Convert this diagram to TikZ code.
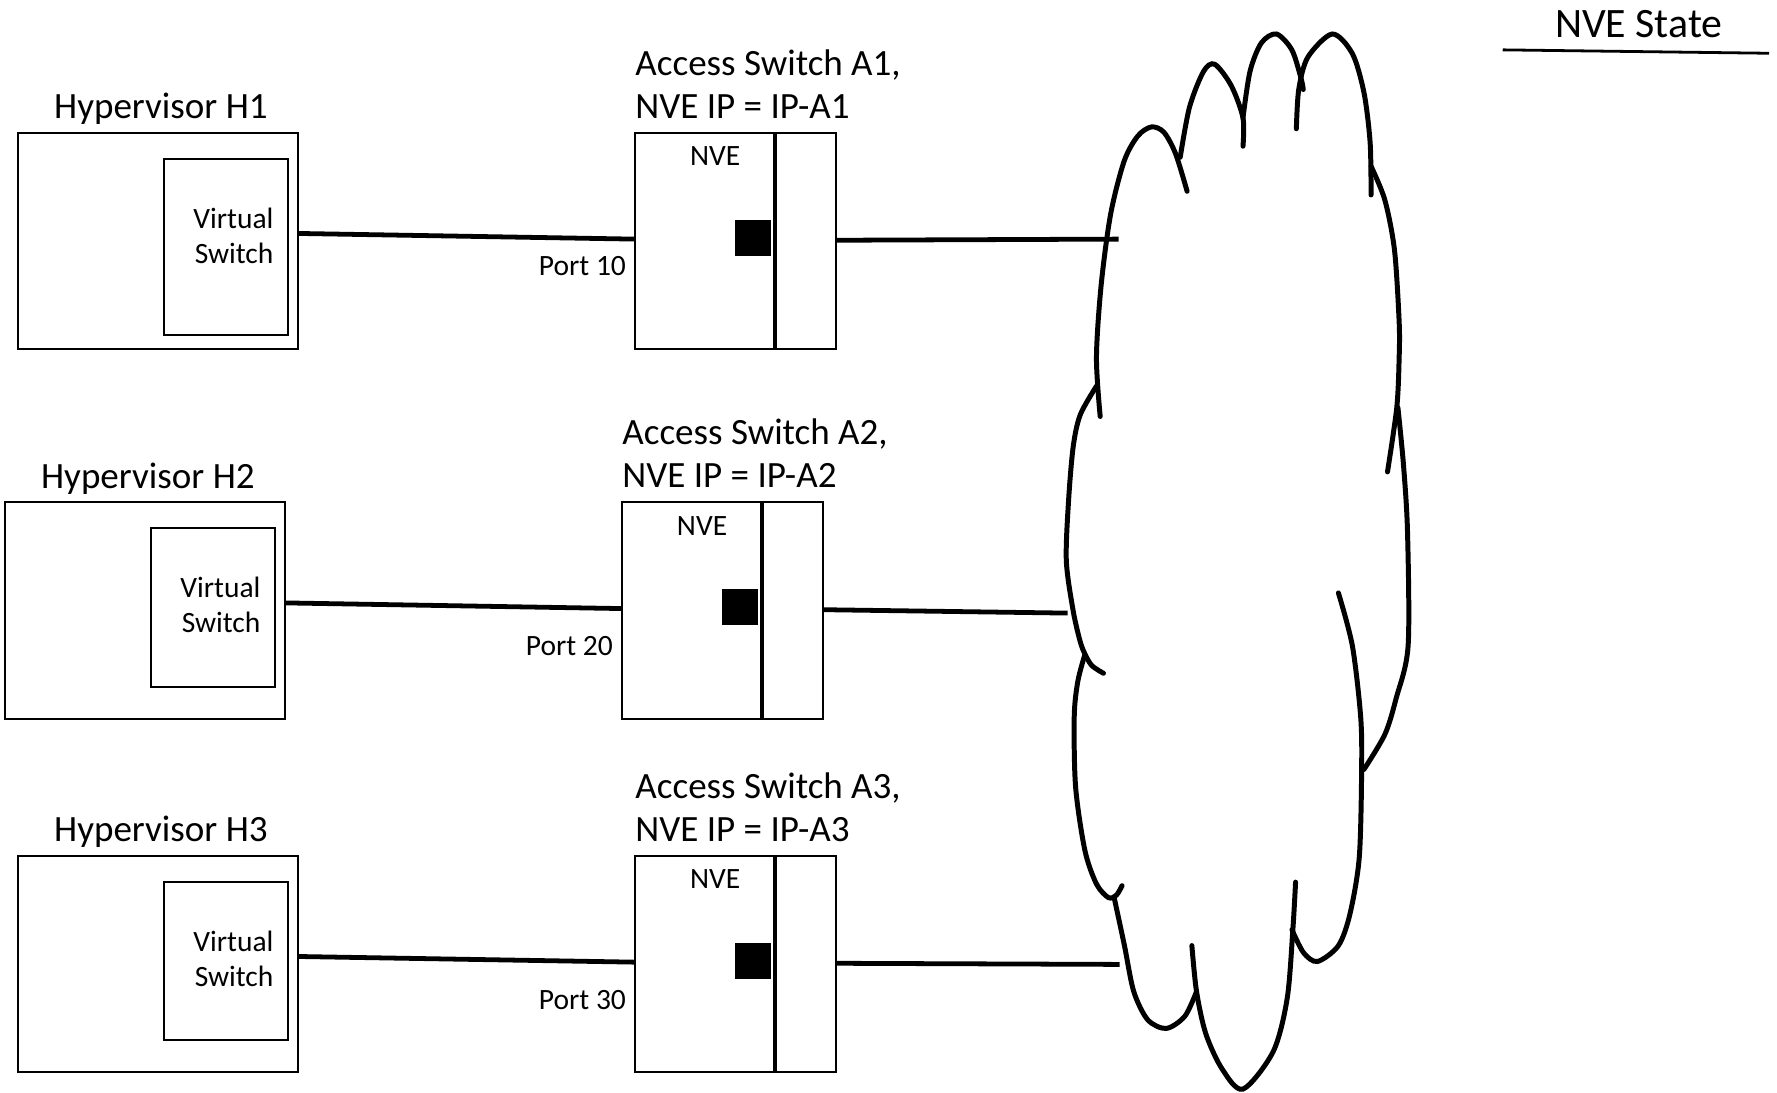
\documentclass[tikz,border=0pt]{standalone}
\usepackage{fontspec}
\setmainfont{Carlito}
\usetikzlibrary{positioning,calc}

\tikzset{
  box/.style={draw, line width=0.5pt, inner sep=0pt, outer sep=0pt},
  wire/.style={line width=1.2pt},
  cloudline/.style={line width=1.25pt, line cap=round},
  biglbl/.style={font=\fontsize{9.3}{10.8}\selectfont, inner sep=0pt},
  smalllbl/.style={font=\fontsize{7.4}{8.8}\selectfont, inner sep=0pt},
}

\begin{document}
\begin{tikzpicture}[x=0.01cm, y=-0.01cm]
\useasboundingbox (0,0) rectangle (1568,964);

% one row per hypervisor / access switch pair
\foreach \i/\sx/\ty/\vh/\py/\cx/\cy in {1/0/117/156/118/987/211, 2/-11.5/443/140/127/942/541, 3/0/755/140/127/988/851} {
  \node[box, anchor=north west, minimum width=2.47cm, minimum height=1.91cm] (hyp\i) at (16+\sx,\ty) {};
  \node[biglbl] (hyplbl\i) at (142+\sx,\ty-21) {Hypervisor H\i};
  \node[box, anchor=north east, minimum width=1.09cm, minimum height=0.01cm*\vh] (vsw\i) at (254+\sx,\ty+23) {};
  \node[smalllbl, align=right, anchor=east] (vswlbl\i) at (242+\sx,\ty+91) {Virtual\\Switch};
  % access switch: NVE part and port part
  \node[box, anchor=north west, minimum width=1.23cm, minimum height=1.91cm] (nve\i) at (560+\sx,\ty) {};
  \node[box, anchor=north west, minimum width=0.53cm, minimum height=1.91cm] (side\i) at (685+\sx,\ty) {};
  \node[smalllbl] (nvelbl\i) at (631+\sx,\ty+21) {NVE};
  \node[fill=black, inner sep=0pt, minimum size=0.32cm, anchor=north east] (blk\i) at (681+\sx,\ty+76) {};
  \node[smalllbl, anchor=east] (portlbl\i) at ($(nve\i.north west)+(-7,\py)$) {Port \i0};
  \node[biglbl, align=left, anchor=west] (swlbl\i) at (560+\sx,\ty-43) {Access Switch A\i,\\NVE IP = IP-A\i};
  % links
  \coordinate (cl\i) at (\cx,\cy);
  \draw[wire] ($(hyp\i.north east)+(0,89)$) -- ($(nve\i.north west)+(0,94)$);
  \draw[wire] ($(side\i.north east)+(0,95)$) -- (cl\i);
}

% NVE State heading
\node[font=\fontsize{10.5}{12}\selectfont, inner sep=0pt] (state) at (1446,21) {NVE State};
\coordinate (ulA) at (1326,44);
\coordinate (ulB) at (1561,47);
\draw[line width=0.7pt] (ulA) -- (ulB);

% cloud, drawn stroke by stroke
\draw[cloudline] plot[smooth] coordinates {(1047.5,168.8) (1037.3,135.6) (1027,116.7) (1016,112) (1004,120) (992,142) (980,189) (971.6,252) (967.5,315.5) (970.8,367.5)};
\draw[cloudline] plot[smooth] coordinates {(1041.4,138.8) (1049.6,94.6) (1062,63) (1072,56.8) (1086.5,75.7) (1096.8,104) (1096.8,129)};
\draw[cloudline] plot[smooth] coordinates {(1096.8,104) (1103,63) (1113,37.9) (1126.3,30) (1139.9,44) (1148,69) (1150,79)};
\draw[cloudline] plot[smooth] coordinates {(1143.9,113.6) (1146,79) (1154,50.5) (1175.6,30) (1193.3,47.3) (1203.6,82) (1209,126) (1209.8,172)};
\draw[cloudline] plot[smooth] coordinates {(1209.8,146.7) (1222,176.6) (1230.5,220.8) (1234.6,284) (1234.6,315.5) (1232.5,359.6) (1224.3,416.4)};
\draw[cloudline] plot[smooth] coordinates {(1233.5,359.6) (1238.4,410) (1242,470) (1242.5,570) (1232,616) (1222,648) (1203.5,679)};
\draw[cloudline] plot[smooth] coordinates {(1181,523.2) (1193.3,569.8) (1200.6,632) (1201.5,678.8) (1199.4,756.6) (1191.2,806.4) (1181,834.4) (1162.5,848.4) (1150.2,840.6) (1140,820.4)};
\draw[cloudline] plot[smooth] coordinates {(1143.2,778.4) (1140.8,820.4) (1135.8,881) (1123.5,927.8) (1096.8,961) (1078.4,943.3) (1064,912.2) (1055.8,874.9) (1051.7,834.4)};
\draw[cloudline] plot[smooth] coordinates {(1055.8,874.9) (1045.5,896.7) (1029.1,907.5) (1012.7,899.8) (1000.4,874.9) (992.2,834.4) (983.2,792.4)};
\draw[cloudline] plot[smooth] coordinates {(990.1,781.5) (985,790) (978,792) (967.5,780) (957.3,750.4) (949.1,694.4) (947.9,632.1) (951.1,601) (957.3,577.6)};
\draw[cloudline] plot[smooth] coordinates {(967.5,340.7) (953.2,366) (947,394) (942.9,441.6) (940.9,494.6) (946.9,538.7) (953,565.6) (957.3,577) (963.4,587.3) (973.7,594.1)};
\end{tikzpicture}
\end{document}
